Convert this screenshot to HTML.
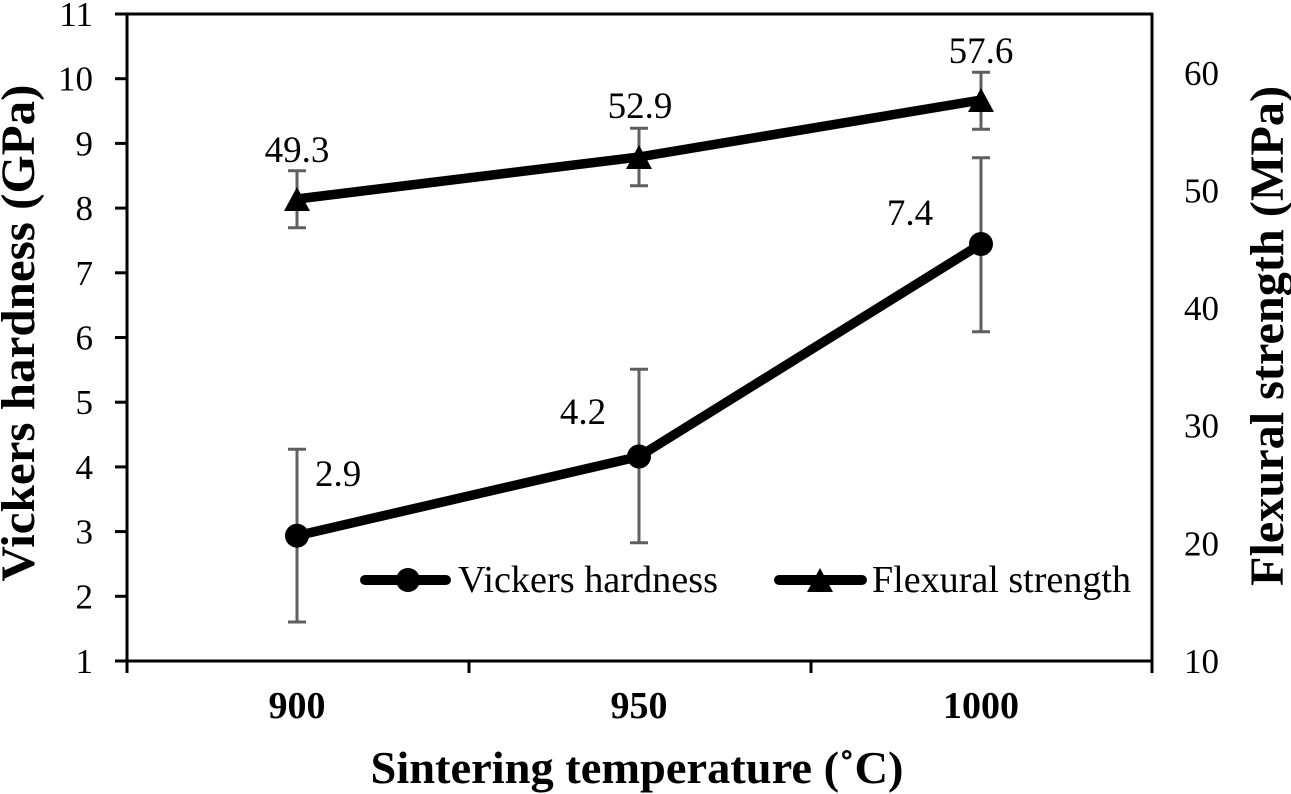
<!DOCTYPE html>
<html>
<head>
<meta charset="utf-8">
<style>
  html, body { margin:0; padding:0; background:#ffffff; }
  svg { display:block; }
  text { font-family: "Liberation Serif", "Times New Roman", serif; fill:#000; }
</style>
</head>
<body>
<svg width="1291" height="794" viewBox="0 0 1291 794" xmlns="http://www.w3.org/2000/svg" font-family="'Liberation Serif', serif">
  <rect x="0" y="0" width="1291" height="794" fill="#fff"/>

  <!-- Frame / axes -->
  <g stroke="#000" stroke-width="3" fill="none">
    <line x1="127" y1="13" x2="127" y2="673"/>
    <line x1="1152" y1="13" x2="1152" y2="673"/>
    <line x1="115" y1="14" x2="1153" y2="14"/>
    <line x1="115" y1="661" x2="1153" y2="661"/>
    <line x1="115" y1="596.3" x2="127" y2="596.3"/>
    <line x1="115" y1="531.6" x2="127" y2="531.6"/>
    <line x1="115" y1="466.9" x2="127" y2="466.9"/>
    <line x1="115" y1="402.2" x2="127" y2="402.2"/>
    <line x1="115" y1="337.5" x2="127" y2="337.5"/>
    <line x1="115" y1="272.8" x2="127" y2="272.8"/>
    <line x1="115" y1="208.1" x2="127" y2="208.1"/>
    <line x1="115" y1="143.4" x2="127" y2="143.4"/>
    <line x1="115" y1="78.7" x2="127" y2="78.7"/>
    <line x1="469" y1="661" x2="469" y2="673"/>
    <line x1="811" y1="661" x2="811" y2="673"/>
  </g>

  <!-- Left tick labels -->
  <g font-size="35" text-anchor="end">
    <text x="93" y="673">1</text>
    <text x="93" y="608.3">2</text>
    <text x="93" y="543.6">3</text>
    <text x="93" y="478.9">4</text>
    <text x="93" y="414.2">5</text>
    <text x="93" y="349.5">6</text>
    <text x="93" y="284.8">7</text>
    <text x="93" y="220.1">8</text>
    <text x="93" y="155.4">9</text>
    <text x="93" y="90.7">10</text>
    <text x="93" y="26">11</text>
  </g>

  <!-- Right tick labels -->
  <g font-size="35" text-anchor="start">
    <text x="1184" y="673">10</text>
    <text x="1184" y="555.4">20</text>
    <text x="1184" y="437.7">30</text>
    <text x="1184" y="320.1">40</text>
    <text x="1184" y="202.4">50</text>
    <text x="1184" y="84.8">60</text>
  </g>

  <!-- X tick labels -->
  <g font-size="38" font-weight="bold" text-anchor="middle">
    <text x="297" y="718">900</text>
    <text x="639" y="718">950</text>
    <text x="981" y="718">1000</text>
  </g>

  <!-- Axis titles -->
  <text x="637" y="783" font-size="46" font-weight="bold" text-anchor="middle" textLength="533" lengthAdjust="spacingAndGlyphs">Sintering temperature (˚C)</text>
  <text transform="translate(34,333) rotate(-90)" font-size="48" font-weight="bold" text-anchor="middle" textLength="497" lengthAdjust="spacingAndGlyphs">Vickers hardness (GPa)</text>
  <text transform="translate(1283,336) rotate(-90)" font-size="48" font-weight="bold" text-anchor="middle" textLength="500" lengthAdjust="spacingAndGlyphs">Flexural strength (MPa)</text>

  <!-- Error bars -->
  <g stroke="#5f5f5f" stroke-width="3" fill="none">
    <line x1="297" y1="449.3" x2="297" y2="622"/>
    <line x1="288" y1="449.3" x2="306" y2="449.3"/>
    <line x1="288" y1="622" x2="306" y2="622"/>
    <line x1="639" y1="369.3" x2="639" y2="542.7"/>
    <line x1="630" y1="369.3" x2="648" y2="369.3"/>
    <line x1="630" y1="542.7" x2="648" y2="542.7"/>
    <line x1="981" y1="157.7" x2="981" y2="331.7"/>
    <line x1="972" y1="157.7" x2="990" y2="157.7"/>
    <line x1="972" y1="331.7" x2="990" y2="331.7"/>
    <line x1="297" y1="170.7" x2="297" y2="227.7"/>
    <line x1="288" y1="170.7" x2="306" y2="170.7"/>
    <line x1="288" y1="227.7" x2="306" y2="227.7"/>
    <line x1="639" y1="128.3" x2="639" y2="185.7"/>
    <line x1="630" y1="128.3" x2="648" y2="128.3"/>
    <line x1="630" y1="185.7" x2="648" y2="185.7"/>
    <line x1="981" y1="72.3" x2="981" y2="129.3"/>
    <line x1="972" y1="72.3" x2="990" y2="72.3"/>
    <line x1="972" y1="129.3" x2="990" y2="129.3"/>
  </g>

  <!-- Series lines -->
  <polyline points="297,535.7 639,456.5 981,244" fill="none" stroke="#000" stroke-width="9.5" stroke-linejoin="round" stroke-linecap="round"/>
  <polyline points="297,199 639,157 981,100" fill="none" stroke="#000" stroke-width="9.5" stroke-linejoin="round" stroke-linecap="round"/>

  <!-- Markers -->
  <g fill="#000">
    <circle cx="297" cy="535.7" r="12"/>
    <circle cx="639" cy="456.5" r="12"/>
    <circle cx="981" cy="244" r="12"/>
    <polygon points="297,187 284,211 310,211"/>
    <polygon points="639,145 626,169 652,169"/>
    <polygon points="981,88 968,112 994,112"/>
  </g>

  <!-- Data labels -->
  <g font-size="37">
    <text x="297" y="162" text-anchor="middle">49.3</text>
    <text x="640" y="118" text-anchor="middle">52.9</text>
    <text x="981" y="63" text-anchor="middle">57.6</text>
    <text x="315" y="486" text-anchor="start">2.9</text>
    <text x="583" y="424" text-anchor="middle">4.2</text>
    <text x="910" y="225" text-anchor="middle">7.4</text>
  </g>

  <!-- Legend -->
  <g>
    <line x1="365" y1="580" x2="446" y2="580" stroke="#000" stroke-width="10" stroke-linecap="round"/>
    <circle cx="408" cy="580" r="12" fill="#000"/>
    <text x="458" y="592" font-size="38" textLength="260" lengthAdjust="spacingAndGlyphs">Vickers hardness</text>

    <line x1="779" y1="580" x2="862" y2="580" stroke="#000" stroke-width="10" stroke-linecap="round"/>
    <polygon points="820,568 807,592 833,592" fill="#000"/>
    <text x="872" y="592" font-size="38" textLength="259" lengthAdjust="spacingAndGlyphs">Flexural strength</text>
  </g>
</svg>
</body>
</html>
